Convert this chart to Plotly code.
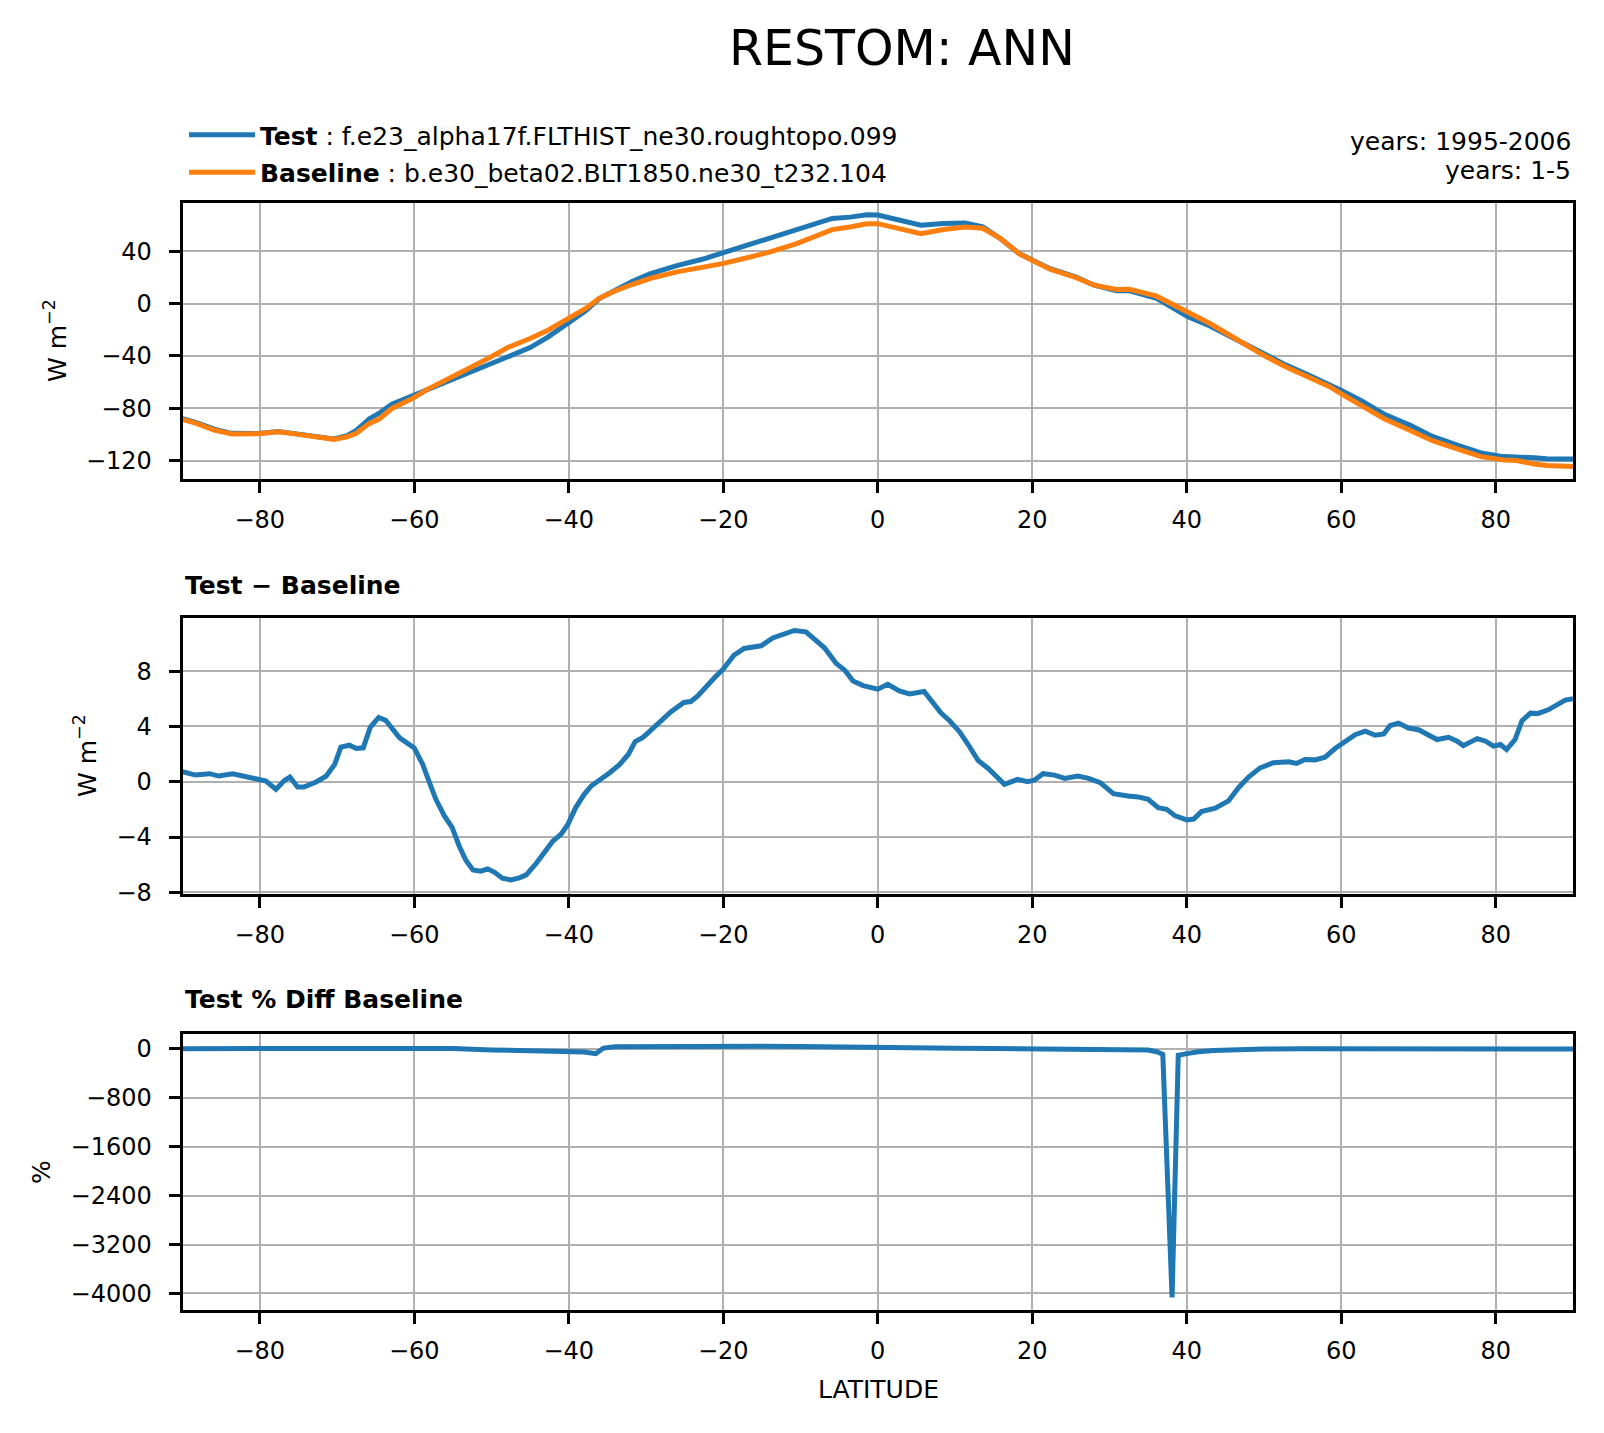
import plotly.graph_objects as go

# zonal mean RESTOM, annual
lat = [-90, -88.2, -85.9, -83.6, -80.2, -77.6, -75, -72.7, -70.4, -68.7, -67.5, -65.8,
       -64.6, -62.9, -60.2, -58.3, -56, -53.1, -50.2, -47.9, -45, -42.7, -40.1, -37.8,
       -36.1, -34.1, -31.8, -29.5, -26, -22.6, -20.1, -17.3, -13.9, -10.5, -8.2, -5.9,
       -3.6, -1.4, 0, 2.7, 5.6, 8.5, 11.3, 13.6, 15.9, 18.3, 20, 22.3, 25.7, 28, 30.9,
       32.6, 36.1, 38.4, 40.1, 43, 46.5, 49.9, 52.8, 55.7, 58.5, 59.9, 62.6, 65.5, 69,
       71.8, 75.2, 78.1, 81, 82.7, 85, 86.6, 90]
test = [-88, -91, -96, -99.2, -99.3, -97.8, -99.8, -101.5, -103.5, -101, -97, -88,
        -84, -77, -70.5, -65.6, -60.3, -53.4, -46.8, -40.3, -33.7, -25.7, -14.5, -5.6,
        3.6, 10, 16.8, 22.6, 29, 34, 38.6, 43.6, 49.8, 56.6, 61, 65, 66, 67.8, 67.6,
        63.7, 59.8, 61.2, 61.6, 58.6, 49.5, 38.2, 33, 26.6, 20.2, 14, 9.8, 9.7, 3.9,
        -3.6, -9.9, -17.2, -28.1, -38.5, -46.9, -54.5, -61.6, -66.1, -74.2, -84.4,
        -93.3, -101.6, -108.5, -114.2, -117, -117, -117.8, -118.6, -118.8]
baseline = [-88.5, -91.6, -96.7, -99.7, -99.5, -98, -100, -101.8, -103.8, -101.8,
            -99.2, -91.6, -88.5, -80.2, -72.5, -65.6, -59, -50.1, -41.2, -33.6, -26.7,
            -20.4, -11.5, -3.8, 3.8, 9.4, 14.5, 19.1, 24.2, 27.5, 30.5, 34.4, 39.4, 45.8,
            50.9, 56.5, 58.5, 61, 61, 57.3, 53.4, 56.5, 58.5, 57.5, 49.6, 38.1, 33, 26.2,
            19.8, 14, 10.7, 10.8, 5.6, -1.3, -7.1, -15.3, -27.5, -39.4, -48.3, -56, -63.6,
            -68.7, -77.6, -87.8, -97.2, -104.8, -111.5, -117, -119.6, -120, -122.6,
            -123.7, -124.6]

# Test - Baseline
lat_diff = [-90, -88.3, -86.5, -85.3, -83.5, -81.8, -80, -79.2, -77.9, -76.8, -76.1,
            -75.1, -74.3, -72.7, -71.4, -70.3, -69.5, -68.4, -67.5, -66.6, -65.7, -64.6,
            -63.7, -61.9, -60, -58.9, -58.1, -57.2, -56.1, -55.1, -54.2, -53.3, -52.4,
            -51.4, -50.5, -49.6, -48.6, -47.5, -46.4, -45.5, -44.2, -43.1, -42.1, -41,
            -40.1, -39.1, -38, -37.1, -36, -34.7, -33.4, -32.3, -31.4, -30.4, -29.6,
            -28.3, -26.8, -25.1, -24.2, -23.3, -22, -21.2, -20, -18.6, -17.3, -16, -15.1,
            -13.6, -12.3, -10.8, -9.3, -8.2, -6.9, -5.4, -4.3, -3.2, -1.9, 0, 1.3, 2.8,
            4.1, 6, 7.1, 8.2, 9.3, 10.6, 11.7, 13, 14.3, 15.1, 16.4, 18.1, 19.4, 20.3,
            21.4, 22.9, 24.2, 25.9, 27.3, 28.8, 30.5, 32.4, 33.7, 35, 36.3, 37.4, 38.5,
            40, 40.9, 41.9, 43.7, 45.4, 46.7, 48, 49.5, 51.2, 53.2, 54.2, 55.3, 56.6,
            57.9, 59.2, 60.5, 61.8, 63.1, 64.4, 65.5, 66.3, 67.4, 68.7, 70, 71.3, 72.4,
            73.9, 75, 75.8, 77.6, 78.7, 79.7, 80.6, 81.4, 82.5, 83.4, 84.5, 85.5, 86.8,
            88, 89, 90]
diff = [0.72, 0.48, 0.58, 0.41, 0.58, 0.36, 0.17, 0.05, -0.55, 0.1, 0.34, -0.38, -0.38,
        -0.02, 0.41, 1.25, 2.5, 2.64, 2.4, 2.45, 3.93, 4.65, 4.44, 3.17, 2.45, 1.25, 0.05,
        -1.27, -2.47, -3.3, -4.63, -5.7, -6.38, -6.47, -6.3, -6.55, -6.98, -7.1, -6.95,
        -6.74, -5.9, -5.1, -4.32, -3.8, -3.07, -1.87, -0.91, -0.31, 0.1, 0.65, 1.25, 1.97,
        2.9, 3.21, 3.6, 4.32, 5.04, 5.73, 5.8, 6.21, 7.05, 7.48, 8.15, 9.16, 9.64, 9.76,
        9.83, 10.4, 10.65, 10.94, 10.84, 10.36, 9.69, 8.56, 8.08, 7.29, 6.95, 6.69, 7.05,
        6.57, 6.35, 6.52, 5.8, 4.96, 4.41, 3.6, 2.69, 1.53, 0.96, 0.53, -0.19, 0.17, 0,
        0.12, 0.58, 0.48, 0.24, 0.41, 0.24, -0.07, -0.86, -1.03, -1.1, -1.27, -1.87, -1.99,
        -2.47, -2.76, -2.7, -2.16, -1.92, -1.39, -0.43, 0.34, 1.0, 1.37, 1.44, 1.32, 1.6,
        1.58, 1.77, 2.4, 2.93, 3.4, 3.65, 3.36, 3.45, 4.05, 4.24, 3.88, 3.76, 3.36, 3.05,
        3.21, 2.93, 2.61, 3.12, 2.93, 2.57, 2.69, 2.33, 3.05, 4.41, 4.96, 4.94, 5.2, 5.55,
        5.9, 6.0]

# Test % Diff Baseline
lat_pct = [-90, -80, -70, -65, -60, -55, -50, -45, -40, -38, -36.5, -35.5, -34, -30,
           -25, -20, -15, -10, -5, 0, 5, 10, 15, 20, 25, 28, 30, 33, 35, 36.1, 36.9, 38.1,
           38.9, 40, 41.5, 43.5, 45.8, 50, 55, 60, 65, 70, 75, 80, 85, 90]
pct = [1, 0, 2, 8, 14, 5, -20, -36, -40, -54, -82, 10, 30, 36, 38, 40, 40, 36, 24, 16,
       12, 8, 4, 2, 1, -2, -6, -14, -22, -49, -92, -4065, -108, -81, -49, -30, -16, -5,
       -3, -4, -3, -3, -2, -2, -3, -5]

x_ticks = [-80, -60, -40, -20, 0, 20, 40, 60, 80]
y1_ticks = [40, 0, -40, -80, -120]
y2_ticks = [8, 4, 0, -4, -8]
y3_ticks = [0, -800, -1600, -2400, -3200, -4000]

test_name = "<b>Test</b> : f.e23_alpha17f.FLTHIST_ne30.roughtopo.099"
base_name = "<b>Baseline</b> : b.e30_beta02.BLT1850.ne30_t232.104"

W, H = 1604, 1433
OFF = 8  # page body margin
FONT = "DejaVu Sans"
FS = 24      # tick labels
FT = 25      # other small texts
BLUE = "#1f77b4"
ORANGE = "#ff7f0e"
LW = 5


def label(v):
    return str(v).replace("-", "\u2212")


def px(x):
    return (x - OFF) / W


def py(y):
    return 1 - (y - OFF) / H


fig = go.Figure()
fig.add_trace(go.Scatter(x=lat, y=test, name=test_name, mode="lines", legendgroup="a",
                         line=dict(color=BLUE, width=LW), xaxis="x", yaxis="y"))
fig.add_trace(go.Scatter(x=lat, y=baseline, name=base_name, mode="lines", legendgroup="b",
                         line=dict(color=ORANGE, width=LW), xaxis="x", yaxis="y"))
fig.add_trace(go.Scatter(x=lat_diff, y=diff, mode="lines", showlegend=False,
                         line=dict(color=BLUE, width=LW), xaxis="x2", yaxis="y2"))
fig.add_trace(go.Scatter(x=lat_pct, y=pct, mode="lines", showlegend=False,
                         line=dict(color=BLUE, width=LW), xaxis="x3", yaxis="y3"))

xdom = [px(182.5), px(1573)]
ydoms = [[py(479), py(203)], [py(894), py(618)], [py(1310), py(1034)]]
yranges = [[-134.1, 76.8], [-8.12, 11.84], [-4270, 240]]
yticks = [y1_ticks, y2_ticks, y3_ticks]

common = dict(showline=True, mirror=True, linecolor="black", linewidth=2.8,
              ticks="outside", ticklen=11, tickwidth=2.8, tickcolor="black",
              showgrid=True, gridcolor="#b0b0b0", gridwidth=2.2, zeroline=False,
              tickfont=dict(family=FONT, size=FS, color="black"), automargin=False)

layout = {}
for i in range(3):
    sfx = "" if i == 0 else str(i + 1)
    layout["xaxis" + sfx] = dict(common, domain=xdom, range=[-90, 90], anchor="y" + sfx,
                                 tickvals=x_ticks, ticktext=[label(v) for v in x_ticks],
                                 ticklabelstandoff=6)
    layout["yaxis" + sfx] = dict(common, domain=ydoms[i], range=yranges[i], anchor="x" + sfx,
                                 tickvals=yticks[i], ticktext=[label(v) for v in yticks[i]],
                                 ticklabelstandoff=12)

annots = [
    dict(text="RESTOM: ANN", x=px(902), y=py(49), font=dict(size=49)),
    dict(text="years: 1995-2006", x=px(1573), y=py(142), xanchor="right"),
    dict(text="years: 1-5", x=px(1573), y=py(170), xanchor="right"),
    dict(text="W m<sup>\u22122</sup>", x=px(56), y=py(341), textangle=-90),
    dict(text="W m<sup>\u22122</sup>", x=px(85), y=py(756), textangle=-90),
    dict(text="%", x=px(41), y=py(1172), textangle=-90),
    dict(text="<b>Test \u2212 Baseline</b>", x=px(182.5), y=py(585), xanchor="left"),
    dict(text="<b>Test % Diff Baseline</b>", x=px(182.5), y=py(1000), xanchor="left"),
    dict(text="LATITUDE", x=px(878), y=py(1389)),
]
for a in annots:
    a.setdefault("xanchor", "center")
    a.setdefault("font", dict(size=FT))
    a["font"] = dict(family=FONT, color="black", **a["font"])
    fig.add_annotation(xref="paper", yref="paper", yanchor="middle", showarrow=False, **a)

fig.update_layout(
    width=W, height=H,
    margin=dict(l=0, r=0, t=0, b=0),
    paper_bgcolor="white", plot_bgcolor="white",
    font=dict(family=FONT, size=FT, color="black"),
    legend=dict(x=px(184), y=py(112), xanchor="left", yanchor="top",
                bgcolor="rgba(0,0,0,0)", tracegroupgap=2, itemwidth=66,
                font=dict(family=FONT, size=FT, color="black")),
    **layout,
)

fig.write_html("out.html")
